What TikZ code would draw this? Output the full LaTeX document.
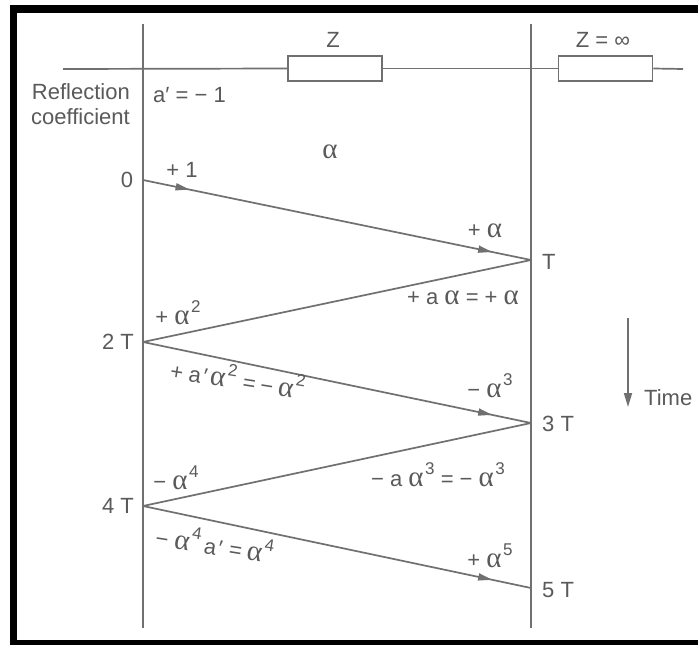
\documentclass[tikz,border=0pt]{standalone}
\usepackage{fontspec}
\setmainfont{Liberation Sans}
\newfontfamily\grk{Liberation Serif}
\usetikzlibrary{arrows.meta,decorations.markings}
\definecolor{linegray}{HTML}{707070}
\definecolor{txtgray}{HTML}{5A5A5A}
\newcommand{\al}{{\grk\fontsize{29}{30}\selectfont α}}
\newcommand{\su}[1]{\hspace{1.5pt}\raisebox{0.55em}{\fontsize{17}{17}\selectfont #1}}
\begin{document}
\begin{tikzpicture}[x=1pt,y=-1pt,
  wire/.style={color=linegray,line width=1.7pt},
  lbl/.style={text=txtgray,font=\fontsize{22}{25}\selectfont,inner sep=0pt},
  resbox/.style={draw=linegray,line width=1.7pt,minimum width=94pt,minimum height=25pt,inner sep=0pt},
  rayend/.style={wire,postaction={decorate},decoration={markings,mark=at position 0.9 with {\arrow{Triangle[length=14pt,width=7pt]}}}},
  raytwo/.style={wire,postaction={decorate},decoration={markings,mark=at position 0.12 with {\arrow{Triangle[length=14pt,width=7pt]}},mark=at position 0.9 with {\arrow{Triangle[length=14pt,width=7pt]}}}}
]
\useasboundingbox (0,0) rectangle (698,645);
\fill[white] (0,0) rectangle (698,645);
% frame
\fill[black] (10,5) rectangle (17,645);
\fill[black] (10,5) rectangle (698,13);
\fill[black] (10,640) rectangle (698,645);

% line and impedances
\coordinate (hl) at (63,69);
\coordinate (hr) at (683,69);
\node[resbox] (z1) at (335,68.5) {};
\node[resbox] (z2) at (605.5,68.5) {};
\draw[wire] (hl) -- (z1.west);
\draw[wire] (z1.east) -- (z2.west);
\draw[wire] (z2.east) -- (hr);
\node[lbl] (zl) at (333,40) {Z};
\node[lbl] (zinf) at (603,40) {Z = ∞};

% vertical lines
\coordinate (lt) at (143,24);
\coordinate (lb) at (143,628);
\coordinate (rt) at (531,24);
\coordinate (rb) at (531,628);
\draw[wire] (lt) -- (lb);
\draw[wire] (rt) -- (rb);

% reflection points
\coordinate (p0) at (143,180);
\coordinate (p1) at (531,260);
\coordinate (p2) at (143,342);
\coordinate (p3) at (531,423);
\coordinate (p4) at (143,506);
\coordinate (p5) at (531,588);

\draw[raytwo] (p0) -- (p1);
\draw[wire] (p1) -- (p2);
\draw[rayend] (p2) -- (p3);
\draw[wire] (p3) -- (p4);
\draw[rayend] (p4) -- (p5);

% labels
\node[lbl,align=right,anchor=east] (refl) at (130,104) {Reflection\\coefficient};
\node[lbl,anchor=west] (ap) at (153,95) {a′ = − 1};
\node[lbl] (alpha) at (330,152) {\al};
\node[lbl] (t0) at (127,180) {0};
\node[lbl] (l1) at (182,170) {+ 1};
\node[lbl] (l2) at (485,231) {+ \al};
\node[lbl,anchor=west] (t1) at (542,262) {T};
\node[lbl] (l3) at (463,298) {+ a \al\ = + \al};
\node[lbl] (l4) at (178,313) {+ \al\su{2}};
\node[lbl,anchor=east] (t2) at (134,342) {2 T};
\node[lbl,rotate=-9] (l5) at (238,377) {+\hspace{6pt}a\hspace{2pt}′\hspace{3pt}\al\su{2}\hspace{7pt}=\hspace{5pt}−\hspace{5pt}\al\su{2}};
\node[lbl] (l6) at (490,386) {− \al\su{3}};
\node[lbl,anchor=west] (t3) at (542,424) {3 T};
\node[lbl] (l7) at (176,478) {− \al\su{4}};
\node[lbl] (l8) at (438,475) {− a \al\su{3} = − \al\su{3}};
\node[lbl,anchor=east] (t4) at (134,506) {4 T};
\node[lbl,rotate=-9] (l9) at (215,543) {−\hspace{6pt}\al\su{4}\hspace{4pt}a\hspace{2pt}′\hspace{7pt}=\hspace{5pt}\al\su{4}};
\node[lbl] (l10) at (490,556) {+ \al\su{5}};
\node[lbl,anchor=west] (t5) at (542,590) {5 T};

% time arrow
\coordinate (ta) at (628,318);
\coordinate (tb) at (628,407);
\draw[wire,-{Triangle[length=14pt,width=8pt]}] (ta) -- (tb);
\node[lbl,anchor=west] (time) at (644,398) {Time};
\end{tikzpicture}
\end{document}
